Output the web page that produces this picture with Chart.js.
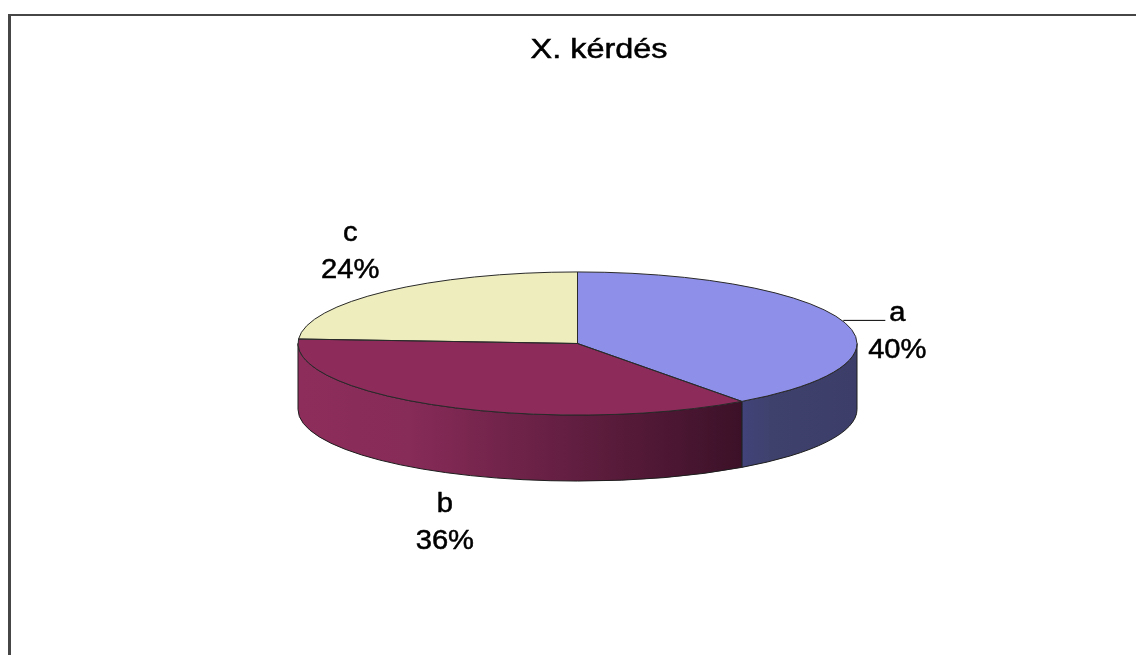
<!DOCTYPE html>
<html>
<head>
<meta charset="utf-8">
<title>X. kérdés</title>
<script src="https://cdn.jsdelivr.net/npm/chart.js@4.4.0/dist/chart.umd.min.js"></script>
<style>
  html, body { margin: 0; padding: 0; background: #fff; }
  canvas { display: block; }
</style>
</head>
<body>
<canvas id="pie" width="1136" height="655"></canvas>
<script>
// Answers and their share (%)
const answers = ["a", "b", "c"];
const shares = [40, 36, 24];
const chartTitle = "X. kérdés";

// Colours: top face, and wall gradient stops (left -> right)
const topColors = ["#8e8fe9", "#8d2c5b", "#eeedbd"];
const wallColors = [
  ["#41437a", "#3f416d", "#3c3e69"],
  ["#8d2d5b", "#872b58", "#3c1128"],
  ["#d6d5a9", "#cfcea3", "#bdbc95"]
];

// Label placement relative to the rim point of each slice
const labelOffsets = [[54, 0], [2, 40], [-36, -50]];
const leaderLines = [true, false, false];

// Disc look
const TILT = 0.256;      // vertical squash of the disc
const DEPTH = 66;        // wall height in px
const FONT = "27px 'Liberation Sans', Arial, sans-serif";

function stretchedText(ctx, text, x, y, sx) {
  ctx.save();
  ctx.translate(x, y);
  ctx.scale(sx, 1);
  ctx.fillText(text, 0, 0);
  ctx.lineWidth = 0.5;
  ctx.strokeStyle = ctx.fillStyle;
  ctx.strokeText(text, 0, 0);
  ctx.restore();
}

const tiltPlugin = {
  id: "tilt",
  beforeDraw(chart) {
    const ctx = chart.ctx;
    ctx.save();
    ctx.fillStyle = "#fff";
    ctx.fillRect(0, 0, chart.width, chart.height);
    // frame
    ctx.fillStyle = "#464646";
    ctx.fillRect(8, 14, 3, chart.height);
    ctx.fillRect(8, 14, chart.width, 2);
    // title
    ctx.fillStyle = "#000";
    ctx.font = FONT;
    ctx.textAlign = "center";
    ctx.textBaseline = "alphabetic";
    stretchedText(ctx, chartTitle, 599, 58, 1.2);
    ctx.restore();
  },
  beforeDatasetsDraw(chart) {
    const ctx = chart.ctx;
    const arcs = chart.getDatasetMeta(0).data;
    const cx = arcs[0].x, cy = arcs[0].y, rx = arcs[0].outerRadius;
    const ry = rx * TILT;

    // front walls (only the half facing the viewer)
    arcs.forEach((arc, i) => {
      for (let k = -1; k <= 1; k++) {
        const lo = Math.max(arc.startAngle, 2 * Math.PI * k);
        const hi = Math.min(arc.endAngle, 2 * Math.PI * k + Math.PI);
        if (hi <= lo) continue;
        const g = ctx.createLinearGradient(cx + rx * Math.cos(hi), 0, cx + rx * Math.cos(lo), 0);
        g.addColorStop(0, wallColors[i][0]);
        g.addColorStop(0.25, wallColors[i][1]);
        g.addColorStop(1, wallColors[i][2]);
        ctx.beginPath();
        ctx.ellipse(cx, cy, rx, ry, 0, lo, hi);
        ctx.ellipse(cx, cy + DEPTH, rx, ry, 0, hi, lo, true);
        ctx.closePath();
        ctx.fillStyle = g;
        ctx.fill();
        ctx.strokeStyle = "#1e1e1e";
        ctx.lineWidth = 1;
        ctx.stroke();
      }
    });

    // squash the pie itself into the top face
    ctx.save();
    ctx.translate(cx, cy);
    ctx.scale(1, TILT);
    ctx.translate(-cx, -cy);
  },
  afterDatasetsDraw(chart) {
    const ctx = chart.ctx;
    ctx.restore();
    const arcs = chart.getDatasetMeta(0).data;
    const cx = arcs[0].x, cy = arcs[0].y, rx = arcs[0].outerRadius;
    const ry = rx * TILT;

    // slice outlines on the top face
    ctx.save();
    ctx.strokeStyle = "#2a2a2a";
    ctx.lineWidth = 1;
    arcs.forEach(arc => {
      ctx.beginPath();
      ctx.moveTo(cx, cy);
      ctx.ellipse(cx, cy, rx, ry, 0, arc.startAngle, arc.endAngle);
      ctx.closePath();
      ctx.stroke();
    });

    // data labels
    ctx.fillStyle = "#000";
    ctx.font = FONT;
    ctx.textAlign = "center";
    ctx.textBaseline = "alphabetic";
    const total = shares.reduce((s, v) => s + v, 0);
    arcs.forEach((arc, i) => {
      const mid = (arc.startAngle + arc.endAngle) / 2;
      const px = cx + rx * Math.cos(mid);
      let py = cy + ry * Math.sin(mid);
      if (Math.sin(mid) > 0) py += DEPTH;
      const lx = px + labelOffsets[i][0];
      const ly = py + labelOffsets[i][1];
      if (leaderLines[i]) {
        ctx.beginPath();
        ctx.moveTo(px, py - 1);
        ctx.lineTo(lx - 12, py - 1);
        ctx.strokeStyle = "#000";
        ctx.lineWidth = 1;
        ctx.stroke();
      }
      const pct = Math.round(shares[i] / total * 100) + "%";
      stretchedText(ctx, answers[i], lx, ly, 1.08);
      stretchedText(ctx, pct, lx, ly + 37, 1.08);
    });
    ctx.restore();
  }
};

new Chart(document.getElementById("pie"), {
  type: "pie",
  data: {
    labels: answers,
    datasets: [{
      data: shares,
      backgroundColor: topColors,
      borderWidth: 0,
      hoverOffset: 0,
      radius: 279.5,
      clip: false
    }]
  },
  options: {
    responsive: false,
    animation: false,
    events: [],
    layout: { padding: { left: 19, right: 0, top: 32, bottom: 0 } },
    plugins: {
      legend: { display: false },
      title: { display: false },
      tooltip: { enabled: false }
    }
  },
  plugins: [tiltPlugin]
});
</script>
</body>
</html>
